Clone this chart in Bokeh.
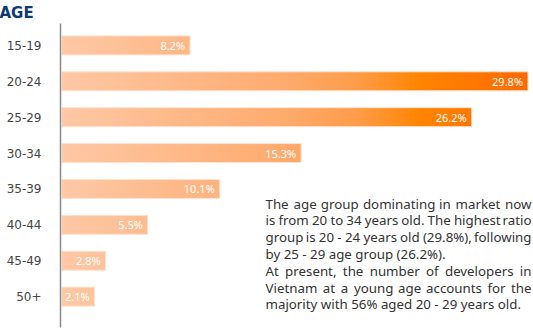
import numpy as np
from bokeh.plotting import figure
from bokeh.models import Range1d, FixedTicker, Label, ColumnDataSource
from bokeh.core.properties import value
from bokeh.embed import file_html
from bokeh.resources import INLINE

# ---- data ----
categories = ["15-19", "20-24", "25-29", "30-34", "35-39", "40-44", "45-49", "50+"]
shares = [8.2, 29.8, 26.2, 15.3, 10.1, 5.5, 2.8, 2.1]
value_labels = ["8.2%", "29.8%", "26.2%", "15.3%", "10.1%", "5.5%", "2.8%", "2.1%"]
title_text = "AGE"
note_lines = [
    "The age group dominating in market now",
    "is from 20 to 34 years old. The highest ratio",
    "group is 20 - 24 years old (29.8%), following",
    "by 25 - 29 age group (26.2%).",
    "At present, the number of developers in",
    "Vietnam at a young age accounts for the",
    "majority with 56% aged 20 - 29 years old.",
]
justified = [True, True, True, False, True, True, False]

# ---- gradient (absolute along x) ----
stop_pos = [0.0, 14.6, 19.0, 23.0, 29.8]
stop_rgb = np.array([[0xFE, 0xC8, 0xA6], [0xFE, 0xAA, 0x6C], [0xFF, 0x9C, 0x48],
                     [0xFF, 0x84, 0x00], [0xFF, 0x6A, 0x00]], dtype=float)


def grad(x):
    r = np.interp(x, stop_pos, stop_rgb[:, 0])
    g = np.interp(x, stop_pos, stop_rgb[:, 1])
    b = np.interp(x, stop_pos, stop_rgb[:, 2])
    return "#%02x%02x%02x" % (int(round(r)), int(round(g)), int(round(b)))


ypos = list(range(len(categories)))
step = 0.1
sl_left, sl_right, sl_y, sl_col = [], [], [], []
for yi, v in zip(ypos, shares):
    n = int(np.ceil(v / step))
    for k in range(n):
        l = k * step
        r = min((k + 1) * step + 0.06, v)
        sl_left.append(l)
        sl_right.append(r)
        sl_y.append(yi)
        sl_col.append(grad(l + step / 2))

p = figure(width=533, height=329, output_backend="svg", toolbar_location=None,
           x_range=Range1d(-0.08, 30.15), y_range=Range1d(7.86, -0.61),
           min_border_left=60, min_border_right=0, min_border_top=22,
           min_border_bottom=2)
p.outline_line_color = None
p.xgrid.visible = False
p.ygrid.visible = False
p.xaxis.visible = False
p.background_fill_color = "white"
p.border_fill_color = "white"

p.title.text = title_text
p.title.align = "left"
p.title.offset = -61
p.title.standoff = 3
p.title.text_font = "DejaVu Sans"
p.title.text_font_size = "15px"
p.title.text_font_style = "bold"
p.title.text_color = "#0b3b72"

yax = p.yaxis[0]
yax.ticker = FixedTicker(ticks=ypos)
yax.major_label_overrides = {i: c for i, c in zip(ypos, categories)}
yax.major_tick_line_color = None
yax.minor_tick_line_color = None
yax.axis_line_color = "#8a8a8a"
yax.axis_line_width = 1.5
yax.major_label_standoff = 13
yax.major_label_text_font = "DejaVu Sans"
yax.major_label_text_font_size = "12px"
yax.major_label_text_color = "#444444"

src = ColumnDataSource(dict(left=sl_left, right=sl_right, y=sl_y, color=sl_col))
p.hbar(y="y", left="left", right="right", height=0.53, fill_color="color",
       line_color=None, source=src)

bsrc = ColumnDataSource(dict(y=ypos, v=shares, lab=value_labels))
p.hbar(y="y", left=0, right="v", height=0.53, fill_color=None,
       line_color="#ffe4d2", line_width=1, source=bsrc)
p.text(x="v", y="y", text="lab", source=bsrc, x_offset=-5, text_align="right",
       text_baseline="middle", text_color="white", text_font=value("Noto Sans"),
       text_font_size="11px")

# ---- explanatory paragraph, justified word by word (approximate metrics) ----
ADV = {' ': .26, 'a': .556, 'b': .613, 'c': .476, 'd': .613, 'e': .561, 'f': .339,
       'g': .548, 'h': .614, 'i': .253, 'j': .253, 'k': .525, 'l': .253, 'm': .93,
       'n': .614, 'o': .604, 'p': .613, 'q': .613, 'r': .408, 's': .477, 't': .353,
       'u': .614, 'v': .501, 'w': .778, 'x': .52, 'y': .501, 'z': .46, '.': .266,
       ',': .266, '(': .297, ')': .297, '%': .831, '-': .322, 'T': .558, 'A': .633,
       'V': .603}
FS = 13.3
LEFT, RIGHT = 205, 471      # frame-relative screen px
TOP_Y, PITCH = 124, 16.8


def wwidth(w):
    return sum(ADV.get(c, .572) for c in w) * FS


for i, (line, just) in enumerate(zip(note_lines, justified)):
    y = TOP_Y - PITCH * i
    style = dict(y=y, x_units="screen", y_units="screen", text_font="Noto Sans",
                 text_font_size=f"{FS}px", text_color="#333333",
                 text_baseline="alphabetic")
    words = line.split(" ")
    if not just:
        p.add_layout(Label(x=LEFT, text=line, **style))
        continue
    widths = [wwidth(w) for w in words]
    gap = (RIGHT - LEFT - sum(widths)) / (len(words) - 1)
    x = LEFT
    for k, (w, wd) in enumerate(zip(words, widths)):
        if k == len(words) - 1:
            p.add_layout(Label(x=RIGHT, text=w, text_align="right", **style))
        else:
            p.add_layout(Label(x=x, text=w, **style))
        x += wd + gap

open("out.html", "w").write(file_html(p, INLINE))
